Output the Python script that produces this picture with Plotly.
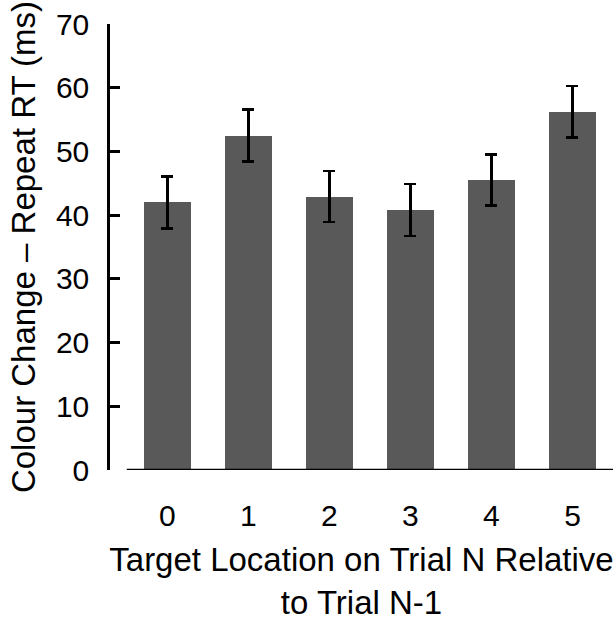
import plotly.graph_objects as go

categories = ["0", "1", "2", "3", "4", "5"]
means = [42.0, 52.5, 42.9, 40.8, 45.5, 56.2]
errors = [4.1, 4.1, 4.0, 4.1, 4.0, 4.05]
y_ticks = [0, 10, 20, 30, 40, 50, 60, 70]

positions = list(range(len(categories)))
FONT = "Liberation Sans, Arial, Helvetica, sans-serif"

fig = go.Figure()
fig.add_trace(go.Bar(
    x=positions, y=means, width=0.58,
    marker=dict(color="#595959", line=dict(width=0)),
    error_y=dict(type="data", array=errors, visible=True, color="black",
                 thickness=2.5, width=6),
))

fig.add_shape(type="line", xref="x", yref="y",
              x0=-0.5, x1=len(categories) - 0.5, y0=0, y1=0,
              line=dict(color="black", width=2.5), layer="above")

fig.update_layout(
    width=616, height=621,
    margin=dict(l=110, r=3, t=24, b=151),
    plot_bgcolor="white", paper_bgcolor="white",
    showlegend=False,
    font=dict(family=FONT, color="black"),
    bargap=0,
)
fig.update_xaxes(
    range=[-0.707, 5.5], showline=False, showgrid=False, zeroline=False,
    tickvals=positions, ticktext=categories, ticks="",
    tickfont=dict(size=30, family=FONT, color="black"),
    ticklabelstandoff=25,
    title=dict(text="Target Location on Trial N Relative<br>to Trial N-1",
               font=dict(size=33, family=FONT, color="black"), standoff=18),
)
fig.update_yaxes(
    range=[0, 70], showline=True, linecolor="black", linewidth=2.5,
    showgrid=False, zeroline=False,
    tickvals=y_ticks, ticks="inside", ticklen=10, tickwidth=2.5, tickcolor="black",
    tickfont=dict(size=30, family=FONT, color="black"),
    ticklabelstandoff=12,
    title=dict(text="Colour Change – Repeat RT (ms)",
               font=dict(size=33, family=FONT, color="black"), standoff=11),
)

fig.write_html("out.html")
